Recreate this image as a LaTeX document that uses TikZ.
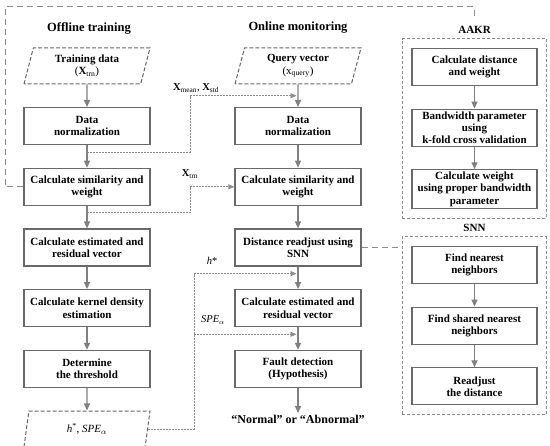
\documentclass[tikz,border=0pt]{standalone}
\usepackage{fontspec}
\setmainfont{Liberation Serif}
\usepackage{tikz}
\usetikzlibrary{arrows.meta, positioning, shapes.geometric, calc, fit}
\definecolor{boxgray}{RGB}{105, 105, 105}
\definecolor{arrowgray}{RGB}{128, 128, 128}
\definecolor{flowgray}{RGB}{140, 140, 140}

\begin{document}
\begin{tikzpicture}[
			x=1pt, y=1pt,
			node distance=22.5pt,
			stage/.style={rectangle, draw=boxgray, line width=1.2pt, minimum width=126pt, minimum height=37pt, inner sep=2pt, align=center, font=\fontsize{11pt}{12.3pt}\selectfont\bfseries},
			datain/.style={trapezium, trapezium left angle=69, trapezium right angle=111, trapezium stretches body, draw=boxgray, line width=1pt, dash pattern=on 4pt off 2pt, minimum width=126pt, minimum height=36pt, inner sep=1pt, align=center, font=\fontsize{11pt}{12.3pt}\selectfont},
			title/.style={font=\fontsize{12.5pt}{14pt}\selectfont\bfseries, inner sep=2pt},
			group/.style={draw=flowgray, line width=1pt, dash pattern=on 3pt off 2pt, inner sep=9pt},
			arrow/.style={-{Triangle[length=7pt, width=6pt]}, line width=1.4pt, draw=arrowgray},
			dataflow/.style={-{Triangle[length=6pt, width=5pt]}, line width=0.8pt, dash pattern=on 2pt off 1pt, draw=flowgray},
			flowlabel/.style={font=\fontsize{10.5pt}{12pt}\selectfont, inner sep=1pt},
			outline/.style={line width=1.1pt, dash pattern=on 6pt off 4pt, draw=flowgray}
		]
		\useasboundingbox (0,0) rectangle (550,-446);
		
		% Offline training
		\node[title] (offtitle) at (89,-28) {Offline training};
		\node[datain] (trn) at (87,-66) {\textbf{Training data}\\(\textbf{X}\textsubscript{trn})};
		\node[stage, below=of trn] (norm) {Data\\normalization};
		\node[stage, below=of norm] (sim) {Calculate similarity and\\weight};
		\node[stage, below=of sim] (est) {Calculate estimated and\\residual vector};
		\node[stage, below=of est] (kde) {Calculate kernel density\\estimation};
		\node[stage, below=of kde] (thr) {Determine\\the threshold};
		\node[datain, below=of thr] (out) {\textit{h}\textsuperscript{*}, \textit{SPE}$_{\alpha}$};
		
		% Online monitoring
		\node[title] (ontitle) at (298,-28) {Online monitoring};
		\node[datain] (qry) at (298,-66) {\textbf{Query vector}\\(x\textsubscript{query})};
		\node[stage, below=of qry] (norm2) {Data\\normalization};
		\node[stage, below=of norm2] (sim2) {Calculate similarity and\\weight};
		\node[stage, below=of sim2] (dist) {Distance readjust using\\SNN};
		\node[stage, below=of dist] (est2) {Calculate estimated and\\residual vector};
		\node[stage, below=of est2] (fault) {Fault detection\\(Hypothesis)};
		\node[below=25pt of fault, inner sep=2pt, font=\fontsize{12pt}{14pt}\selectfont\bfseries] (result) {``Normal'' or ``Abnormal''};
		
		% AAKR
		\node[stage, minimum width=125pt] (aakr1) at (474.5,-67) {Calculate distance\\and weight};
		\node[stage, minimum width=125pt, below=of aakr1] (aakr2) {Bandwidth parameter\\using\\k-fold cross validation};
		\node[stage, minimum width=125pt, below=of aakr2] (aakr3) {Calculate weight\\using proper bandwidth\\parameter};
		\node[group, fit=(aakr1) (aakr3)] (aakr) {};
		\node[title, font=\fontsize{11pt}{12pt}\selectfont\bfseries, above=3pt of aakr] (aakrtitle) {AAKR};
		
		% SNN
		\node[stage, minimum width=125pt] (snn1) at (474.5,-265) {Find nearest\\neighbors};
		\node[stage, minimum width=125pt, below=of snn1] (snn2) {Find shared nearest\\neighbors};
		\node[stage, minimum width=125pt, below=of snn2] (snn3) {Readjust\\the distance};
		\node[group, fit=(snn1) (snn3)] (snn) {};
		\node[title, font=\fontsize{11pt}{12pt}\selectfont\bfseries, above=3pt of snn] (snntitle) {SNN};
		
		\draw[arrow] (trn) -- (norm);
		\draw[arrow] (norm) -- (sim);
		\draw[arrow] (sim) -- (est);
		\draw[arrow] (est) -- (kde);
		\draw[arrow] (kde) -- (thr);
		\draw[arrow] (thr) -- (out);
		
		\draw[arrow] (qry) -- (norm2);
		\draw[arrow] (norm2) -- (sim2);
		\draw[arrow] (sim2) -- (dist);
		\draw[arrow] (dist) -- (est2);
		\draw[arrow] (est2) -- (fault);
		\draw[arrow] (fault) -- (result);
		
		\draw[arrow] (aakr1) -- (aakr2);
		\draw[arrow] (aakr2) -- (aakr3);
		\draw[arrow] (snn1) -- (snn2);
		\draw[arrow] (snn2) -- (snn3);
		
		% Parameters handed to online monitoring
		\coordinate (j1) at ($(norm.south)+(0,-7)$);
		\coordinate (t1) at ($(qry.south)!0.5!(norm2.north)$);
		\draw[dataflow, shorten >=1.5pt] (j1) -- ++(103,0) |- (t1);
		\node[flowlabel] (meanlbl) at (196,-88) {\textbf{X}\textsubscript{mean}, \textbf{X}\textsubscript{std}};
		
		\coordinate (j2) at ($(sim.south)+(0,-7)$);
		\draw[dataflow] (j2) -- ++(103,0) |- (sim2.west);
		\node[flowlabel] (trnlbl) at (190,-174) {\textbf{X}\textsubscript{trn}};
		
		\coordinate (bus) at ($(out.east)+(46,0)$);
		\coordinate (t3) at ($(dist.south)+(0,-7)$);
		\coordinate (t4) at ($(est2.south)+(0,-7)$);
		\draw[dataflow, shorten >=1.5pt] (out.east) -- (bus) |- (t3);
		\draw[dataflow, shorten >=1.5pt] (bus |- t4) -- (t4);
		\node[flowlabel] (hlbl) at (212,-261) {\textit{h}*};
		\node[flowlabel] (spelbl) at (213,-320) {\textit{SPE}$_{\alpha}$};
		
		% Links to the method boxes
		\draw[outline] (sim.west) -- ++(-18,0) |- ([yshift=17pt]aakrtitle.north) -- ([yshift=8pt]aakrtitle.north);
		\draw[outline] (dist.east) -- (snn.west |- dist.east);
		\end{tikzpicture}
\end{document}
